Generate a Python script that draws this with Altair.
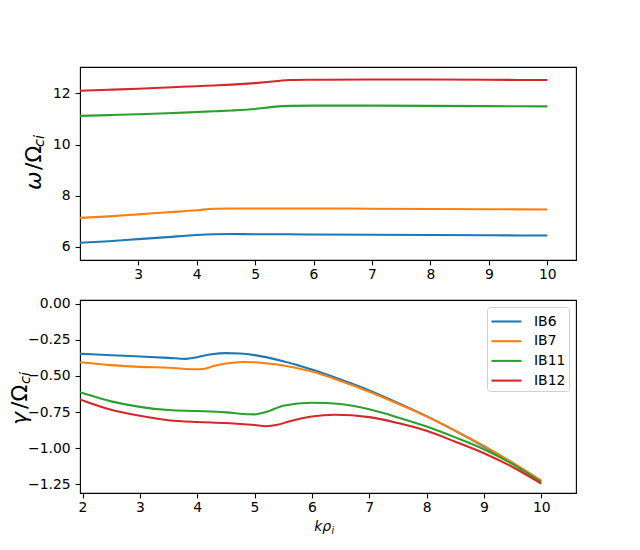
import altair as alt
import pandas as pd

series = ["IB6", "IB7", "IB11", "IB12"]
colors = ["#1f77b4", "#ff7f0e", "#2ca02c", "#d62728"]

# ---- top panel: omega / Omega_ci ----
k_top = [2.0, 2.5, 3.0, 3.5, 4.0, 4.3, 4.6, 5.0, 5.3, 5.6, 6.0, 7.0, 8.0, 9.0, 10.0]
w_ib6 = [6.16, 6.22, 6.30, 6.38, 6.46, 6.49, 6.50, 6.49, 6.49, 6.49, 6.48, 6.47, 6.46, 6.45, 6.44]
w_ib7 = [7.13, 7.19, 7.27, 7.35, 7.43, 7.49, 7.50, 7.50, 7.50, 7.50, 7.50, 7.49, 7.48, 7.47, 7.46]
w_ib11 = [11.12, 11.15, 11.18, 11.22, 11.27, 11.30, 11.33, 11.39, 11.47, 11.51, 11.52, 11.52, 11.51, 11.50, 11.49]
w_ib12 = [12.10, 12.14, 12.18, 12.23, 12.28, 12.31, 12.34, 12.40, 12.46, 12.52, 12.53, 12.54, 12.54, 12.53, 12.52]

# ---- bottom panel: gamma / Omega_ci ----
k_ib6 = [1.95, 2.0, 2.5, 3.0, 3.5, 3.8, 4.0, 4.25, 4.5, 4.75, 5.0, 5.5, 6.0, 6.5, 7.0, 7.5, 8.0, 8.5, 9.0, 9.5, 10.0]
g_ib6 = [-0.346, -0.347, -0.357, -0.365, -0.375, -0.382, -0.370, -0.350, -0.342, -0.345, -0.356, -0.398, -0.456,
         -0.525, -0.600, -0.686, -0.778, -0.880, -0.988, -1.103, -1.227]
k_ib7 = [1.95, 2.0, 2.5, 3.0, 3.5, 4.0, 4.1, 4.3, 4.5, 4.8, 5.0, 5.5, 6.0, 6.5, 7.0, 7.5, 8.0, 8.5, 9.0, 9.5, 10.0]
g_ib7 = [-0.405, -0.407, -0.425, -0.437, -0.443, -0.454, -0.452, -0.430, -0.414, -0.403, -0.405, -0.428, -0.470,
         -0.535, -0.609, -0.692, -0.780, -0.878, -0.984, -1.100, -1.225]
k_ib11 = [1.95, 2.0, 2.5, 3.0, 3.5, 4.0, 4.5, 4.9, 5.0, 5.2, 5.5, 6.0, 6.5, 7.0, 7.5, 8.0, 8.5, 9.0, 9.5, 10.0]
g_ib11 = [-0.612, -0.618, -0.676, -0.714, -0.736, -0.743, -0.752, -0.765, -0.766, -0.750, -0.706, -0.685, -0.694,
          -0.731, -0.787, -0.850, -0.925, -1.007, -1.110, -1.234]
k_ib12 = [1.95, 2.0, 2.5, 3.0, 3.5, 4.0, 4.5, 5.0, 5.2, 5.4, 5.6, 6.0, 6.4, 7.0, 7.5, 8.0, 8.5, 9.0, 9.5, 10.0]
g_ib12 = [-0.662, -0.669, -0.734, -0.775, -0.806, -0.819, -0.826, -0.840, -0.848, -0.838, -0.815, -0.780, -0.769,
          -0.785, -0.826, -0.880, -0.955, -1.035, -1.130, -1.245]

top_ticks = [3, 4, 5, 6, 7, 8, 9, 10]
bottom_ticks = [2, 3, 4, 5, 6, 7, 8, 9, 10]
top_y_ticks = [6, 8, 10, 12]
bottom_y_ticks = [0.0, -0.25, -0.5, -0.75, -1.0, -1.25]

top_rows = []
for name, vals in zip(series, [w_ib6, w_ib7, w_ib11, w_ib12]):
    for i, (k, v) in enumerate(zip(k_top, vals)):
        top_rows.append({"k": k, "v": v, "s": name, "o": i})
df_top = pd.DataFrame(top_rows)

bot_rows = []
for name, ks, vals in zip(series, [k_ib6, k_ib7, k_ib11, k_ib12], [g_ib6, g_ib7, g_ib11, g_ib12]):
    for i, (k, v) in enumerate(zip(ks, vals)):
        bot_rows.append({"k": k, "v": v, "s": name, "o": i})
df_bot = pd.DataFrame(bot_rows)

FONT = "DejaVu Sans"
LW = 2.08

def title_parts(parts):
    layers = []
    for txt, x, y, size, style in parts:
        layers.append(
            alt.Chart(pd.DataFrame({"t": [txt]})).mark_text(
                angle=270, align="left", baseline="alphabetic", font=FONT,
                fontSize=size, fontStyle=style, color="black"
            ).encode(x=alt.value(x), y=alt.value(y), text="t:N")
        )
    return layers

top_color = alt.Color("s:N", scale=alt.Scale(domain=series, range=colors), legend=None)
top_lines = alt.Chart(df_top).mark_line(strokeWidth=LW, interpolate="monotone", clip=True).encode(
    x=alt.X("k:Q", scale=alt.Scale(domain=[2.005, 10.49], nice=False, zero=False),
            axis=alt.Axis(values=top_ticks, title=None, format="d")),
    y=alt.Y("v:Q", scale=alt.Scale(domain=[5.485, 13.03], nice=False, zero=False),
            axis=alt.Axis(values=top_y_ticks, title=None, format="d")),
    color=top_color,
    order="o:Q",
)
top = alt.layer(
    top_lines,
    *title_parts([
        ("ω", -39.5, 123, 22, "italic"),
        ("/Ω", -39.5, 103, 22, "normal"),
        ("ci", -36.5, 80, 14.5, "italic"),
    ]),
).properties(width=496, height=193)

bot_color = alt.Color(
    "s:N", scale=alt.Scale(domain=series, range=colors), sort=series,
    legend=alt.Legend(
        orient="top-right", title=None, offset=7, symbolType="M-1.5,0H1.5", symbolSize=400,
        symbolOffset=5, symbolStrokeWidth=LW, labelFont=FONT, labelFontSize=13.9, labelColor="black",
        padding=3, rowPadding=0.7, labelOffset=16, fillColor="white", strokeColor="#d0d0d0",
        cornerRadius=3,
    ),
)
bot_lines = alt.Chart(df_bot).mark_line(strokeWidth=LW, interpolate="monotone", clip=True).encode(
    x=alt.X("k:Q", scale=alt.Scale(domain=[1.956, 10.606], nice=False, zero=False),
            axis=alt.Axis(values=bottom_ticks, title=None, format="d")),
    y=alt.Y("v:Q", scale=alt.Scale(domain=[-1.31, 0.0256], nice=False, zero=False),
            axis=alt.Axis(values=bottom_y_ticks, title=None, format=".2f")),
    color=bot_color,
    order="o:Q",
)
xlabel = [
    alt.Chart(pd.DataFrame({"t": ["kρ"]})).mark_text(
        align="right", baseline="alphabetic", font=FONT, fontSize=13.9, fontStyle="italic", color="black"
    ).encode(x=alt.value(251), y=alt.value(231), text="t:N"),
    alt.Chart(pd.DataFrame({"t": ["i"]})).mark_text(
        align="left", baseline="alphabetic", font=FONT, fontSize=9.7, fontStyle="italic", color="black"
    ).encode(x=alt.value(251.5), y=alt.value(234), text="t:N"),
]
bottom = alt.layer(
    bot_lines,
    *title_parts([
        ("γ", -53, 125, 22, "italic"),
        ("/Ω", -53, 109, 22, "normal"),
        ("ci", -50, 84, 14.5, "italic"),
    ]),
    *xlabel,
).properties(width=496, height=193)

chart = alt.vconcat(top, bottom, spacing=14).resolve_scale(
    color="independent", x="independent", y="independent"
).resolve_legend(color="independent").properties(
    padding={"left": 0, "top": 58, "right": 0, "bottom": 0}
).configure_view(stroke="black", strokeWidth=1.1).configure_axis(
    domain=False, grid=False, tickSize=4.9, tickWidth=1.1, tickColor="black",
    labelFont=FONT, labelFontSize=13.9, labelColor="black", labelPadding=4.9,
).configure_axisX(labelPadding=2.5)

chart.save("out.html", embed_options={"renderer": "svg", "actions": False})
